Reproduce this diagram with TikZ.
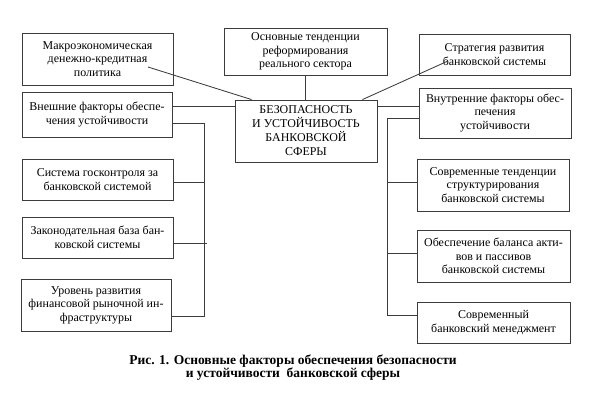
\documentclass[tikz,border=0pt]{standalone}
\usepackage{fontspec}
\setmainfont{Liberation Serif}
\usetikzlibrary{positioning,calc}
\definecolor{bline}{RGB}{60,60,60}
\tikzset{
  factor/.style={draw=bline, line width=0.6pt, align=center, inner sep=1pt,
    font=\fontsize{8.5}{9.6}\selectfont},
  core/.style={draw=bline, line width=0.6pt, align=center, inner sep=1pt,
    font=\fontsize{8.5}{10}\selectfont},
  bsize/.style 2 args={minimum width=#1*0.25mm, minimum height=#2*0.25mm},
  link/.style={bline, line width=0.6pt}
}
\begin{document}
\begin{tikzpicture}[x=0.25mm,y=-0.25mm]
  \useasboundingbox (0,0) rectangle (600,400);
  % left column
  \node[factor,bsize={151}{52}] (macro) at (97.5,59) {Макроэкономическая\\денежно-кредитная\\политика};
  \node[factor,bsize={150}{45}] (extf) at (97,114.5) {Внешние факторы обеспе-\\чения устойчивости};
  \node[factor,bsize={151}{41}] (gos) at (97.5,179.5) {Система госконтроля за\\банковской системой};
  \node[factor,bsize={151}{41}] (law) at (97.5,237.5) {Законодательная база бан-\\ковской системы};
  \node[factor,bsize={150}{52}] (infra) at (96,305) {Уровень развития\\финансовой рыночной ин-\\фраструктуры};
  % top and centre
  \node[factor,bsize={163}{47}] (reform) at (305.5,51.5) {Основные тенденции\\реформирования\\реального сектора};
  \node[core,bsize={142}{62}] (core) at (306,131) {БЕЗОПАСНОСТЬ\\И УСТОЙЧИВОСТЬ\\БАНКОВСКОЙ\\СФЕРЫ};
  % right column
  \node[factor,bsize={151}{41}] (strat) at (494.5,54.5) {Стратегия развития\\банковской системы};
  \node[factor,bsize={152}{50}] (intf) at (495,113) {Внутренние факторы обес-\\печения\\устойчивости};
  \node[factor,bsize={152}{52}] (trend) at (493,185) {Современные тенденции\\структурирования\\банковской системы};
  \node[factor,bsize={153}{52}] (bal) at (493.5,256) {Обеспечение баланса акти-\\вов и пассивов\\банковской системы};
  \node[factor,bsize={153}{41}] (mgmt) at (493.5,322.5) {Современный\\банковский менеджмент};

  % links to the centre
  \draw[link] ($(macro.center)+(50.5,8)$) -- ($(core.north west)+(17,0)$);
  \draw[link] (reform.south) -- (reform.south |- core.north);
  \draw[link] ($(strat.center)+(-46.5,6.5)$) -- ($(core.north east)+(-15,0)$);
  \coordinate (lin) at ($(core.west)+(0,-25)$);
  \coordinate (rin) at ($(core.east)+(0,-25)$);
  \draw[link] (lin) -- (extf.east |- lin);
  \draw[link] (rin) -- (intf.west |- rin);

  % left bus
  \coordinate (lbb) at (204,316);
  \draw[link] ($(extf.east)+(0,8.5)$) -| (lbb) -- ($(infra.east)+(0,11)$);
  \draw[link] ($(gos.east)+(0,2.5)$) -- ++(31,0);
  \draw[link] ($(law.east)+(0,5.5)$) -- ++(34,0);

  % right bus
  \coordinate (rbb) at (387,315);
  \draw[link] ($(intf.west)+(0,5)$) -| (rbb) -- ($(mgmt.west)+(0,-7.5)$);
  \draw[link] ($(trend.west)+(0,-3)$) -- ++(-30,0);
  \draw[link] ($(bal.west)+(0,-3)$) -- ++(-30,0);

  \node[align=center, font=\bfseries\fontsize{9.6}{9.3}\selectfont] (cap) at (293,367.5)
    {Рис. 1. Основные факторы обеспечения безопасности\\и устойчивости\ \ банковской сферы};
\end{tikzpicture}
\end{document}
